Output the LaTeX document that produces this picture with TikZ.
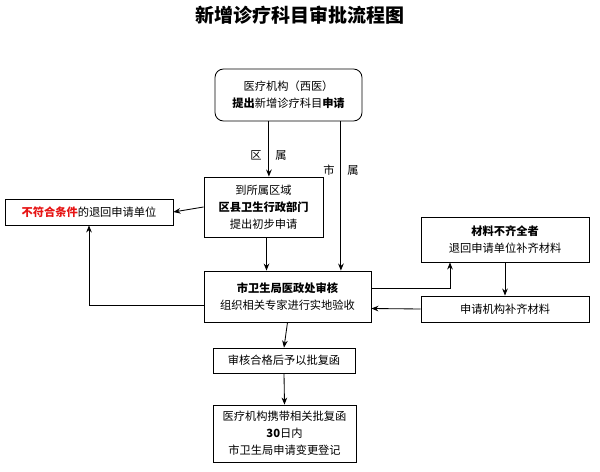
\documentclass[tikz,border=0pt]{standalone}
\usepackage{fontspec}
\setmainfont{Noto Sans CJK SC}
\usetikzlibrary{arrows.meta}
\definecolor{failred}{RGB}{230,20,20}
\tikzset{
  box/.style={draw, semithick, inner sep=0pt, align=center, font=\fontsize{8}{12}\selectfont},
  lbl/.style={font=\fontsize{8}{10}\selectfont, inner sep=0pt},
  flow/.style={-{Stealth[length=5pt,width=4pt]}, semithick}
}
\begin{document}
\begin{tikzpicture}[x=0.025cm,y=-0.025cm]
  \useasboundingbox (0,0) rectangle (600,472);
  \node[font=\fontsize{13.5}{15}\selectfont\bfseries] (title) at (300,15) {新增诊疗科目审批流程图};
  % boxes
  \node[box, rounded corners=6pt, minimum width=147*0.025cm, minimum height=52*0.025cm] (apply) at (288.5,95)
       {医疗机构（西医）\\\textbf{提出}新增诊疗科目\textbf{申请}};
  \node[box, minimum width=119*0.025cm, minimum height=60*0.025cm] (district) at (263.5,207)
       {到所属区域\\\textbf{区县卫生行政部门}\\提出初步申请};
  \node[box, minimum width=168*0.025cm, minimum height=26*0.025cm] (reject) at (89,212)
       {\textcolor{failred}{\textbf{不符合条件}}的退回申请单位};
  \node[box, minimum width=167*0.025cm, minimum height=51*0.025cm] (review) at (287.5,296.5)
       {\textbf{市卫生局医政处审核}\\组织相关专家进行实地验收};
  \node[box, minimum width=168*0.025cm, minimum height=45*0.025cm] (lack) at (505,239.5)
       {\textbf{材料不齐全者}\\退回申请单位补齐材料};
  \node[box, minimum width=168*0.025cm, minimum height=26*0.025cm] (supply) at (505,309)
       {申请机构补齐材料};
  \node[box, minimum width=142*0.025cm, minimum height=25*0.025cm] (approve) at (284,360.5)
       {审核合格后予以批复函};
  \node[box, minimum width=143*0.025cm, minimum height=57*0.025cm] (register) at (284.5,433.5)
       {医疗机构携带相关批复函\\\textbf{30}日内\\市卫生局申请变更登记};
  % labels
  \node[lbl] (qu) at (256,155) {区};
  \node[lbl] (shu1) at (281,155) {属};
  \node[lbl] (shi) at (329,170) {市};
  \node[lbl] (shu2) at (353,170) {属};
  % connectors
  \draw[flow] (apply.south -| qu.east) ++(7,0) coordinate (a1) -- (a1 |- district.north);
  \draw[flow] (apply.south -| shi.east) ++(6,0) coordinate (a2) -- (a2 |- review.north);
  \draw[flow] (district.west) -- (reject.east);
  \draw[flow] (district.south) ++(3,0) coordinate (b1) -- (b1 |- review.north);
  \draw[flow] ([yshift=-9*0.025cm]review.west) -| (reject.south);
  \draw[flow] ([yshift=8*0.025cm]review.east) -| ([xshift=-55*0.025cm]lack.south);
  \draw[flow] (lack.south) -- (supply.north);
  \draw[flow] (supply.west) -- ([yshift=-12*0.025cm]review.east);
  \draw[flow] (review.south) -- (approve.north);
  \draw[flow] (approve.south) -- (register.north);
\end{tikzpicture}
\end{document}
